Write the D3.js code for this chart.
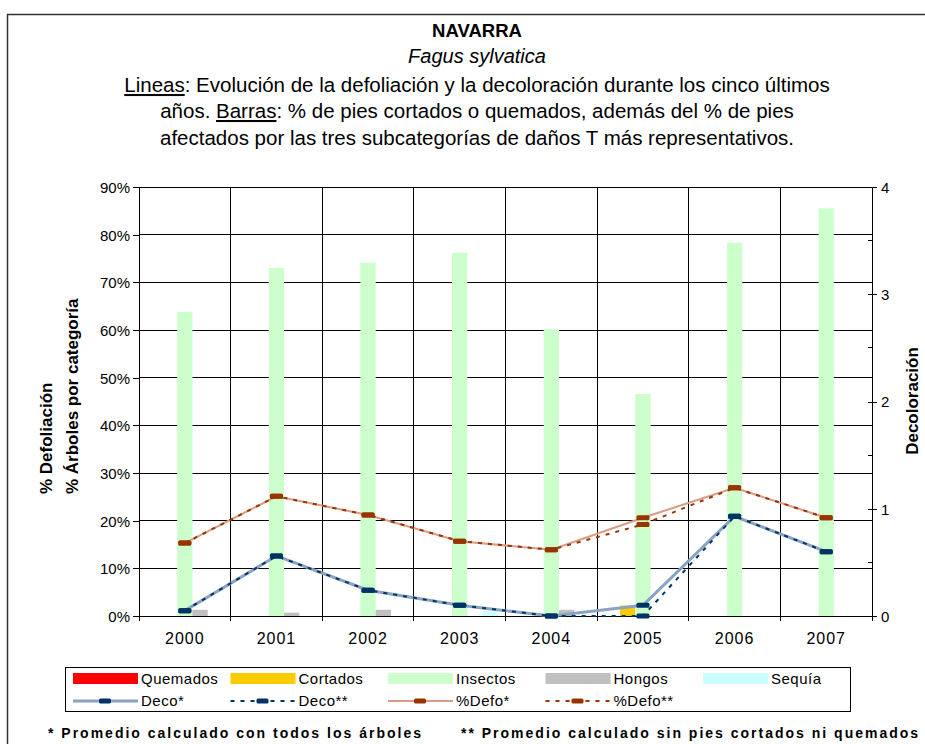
<!DOCTYPE html>
<meta charset="utf-8">
<style>
body {
  margin: 0;
  background: #fff;
}
svg text {
  font-family: "Liberation Sans", Arial, sans-serif;
  fill: #000;
}
.grid line {
  stroke: #000;
  stroke-width: 1px;
  shape-rendering: crispEdges;
}
.axis path, .axis line {
  stroke: #000;
  shape-rendering: crispEdges;
}
.axis text {
  font-size: 15px;
}
</style>
<body>
<script src="https://cdn.jsdelivr.net/npm/d3@7"></script>
<script>
var width = 925,
    height = 744;

var years = ["2000", "2001", "2002", "2003", "2004", "2005", "2006", "2007"];
var seriesNames = ["Quemados", "Cortados", "Insectos", "Hongos", "Sequía"];
var seriesColors = ["#ff0000", "#ffcc00", "#ccffcc", "#c0c0c0", "#ccffff"];

// % de pies por categoría (eje izquierdo)
var quemados = [0, 0, 0, 0, 0, 0, 0, 0];
var cortados = [0, 0, 0, 0, 0, 2.2, 0, 0];
var insectos = [63.8, 73.0, 74.1, 76.2, 60.2, 46.6, 78.3, 85.5];
var hongos   = [1.3, 0.7, 1.3, 0, 1.3, 0, 0, 0];
var sequia   = [0, 0, 0, 1.0, 0, 0, 0, 0];

// decoloración (eje derecho, 0-4)
var decoTodos = [0.05, 0.56, 0.24, 0.10, 0, 0.10, 0.93, 0.60];
var decoSin   = [0.05, 0.56, 0.24, 0.10, 0, 0, 0.93, 0.60];

// % defoliación (eje izquierdo)
var defoTodos = [15.3, 25.1, 21.2, 15.7, 13.9, 20.6, 26.9, 20.6];
var defoSin   = [15.3, 25.1, 21.2, 15.7, 13.9, 19.2, 26.9, 20.6];

var leftTicks = [0, 10, 20, 30, 40, 50, 60, 70, 80, 90];
var rightTicks = [0, 1, 2, 3, 4];

var barSeries = [quemados, cortados, insectos, hongos, sequia];

var plot = {left: 139, right: 872, top: 187, bottom: 616};

var svg = d3.select("body").append("svg")
    .attr("width", width)
    .attr("height", height);

// outer frame (continues past the right and bottom edges)
svg.append("path")
    .attr("d", "M7.5," + height + "V14.5H" + width)
    .attr("fill", "none")
    .attr("stroke", "#333")
    .attr("stroke-width", 1.5);

// titles
var cx = 477;
svg.append("text")
    .attr("x", cx).attr("y", 37)
    .attr("text-anchor", "middle")
    .style("font-size", "18.5px").style("font-weight", "bold")
    .text("NAVARRA");
svg.append("text")
    .attr("x", cx).attr("y", 63)
    .attr("text-anchor", "middle")
    .style("font-size", "20px").style("font-style", "italic")
    .text("Fagus sylvatica");

var l1 = svg.append("text").attr("x", cx).attr("y", 92)
    .attr("text-anchor", "middle").style("font-size", "20.5px");
l1.append("tspan").attr("text-decoration", "underline").text("Lineas");
l1.append("tspan").text(": Evolución de la defoliación y la decoloración durante los cinco últimos");

var l2 = svg.append("text").attr("x", cx).attr("y", 118)
    .attr("text-anchor", "middle").style("font-size", "20.5px");
l2.append("tspan").text("años. ");
l2.append("tspan").attr("text-decoration", "underline").text("Barras");
l2.append("tspan").text(": % de pies cortados o quemados, además del % de pies");

svg.append("text").attr("x", cx).attr("y", 145)
    .attr("text-anchor", "middle").style("font-size", "20.5px")
    .text("afectados por las tres subcategorías de daños T más representativos.");

// scales
var x0 = d3.scaleBand()
    .domain(years)
    .range([plot.left, plot.right])
    .paddingInner(0).paddingOuter(0);

var x1 = d3.scaleBand()
    .domain(seriesNames)
    .range([0, x0.bandwidth()])
    .paddingInner(0).paddingOuter(0.5);

var y = d3.scaleLinear().domain([0, 90]).range([plot.bottom, plot.top]);
var yR = d3.scaleLinear().domain([0, 4]).range([plot.bottom, plot.top]);

var cxOf = function(d) { return x0(d) + x0.bandwidth() / 2; };

// gridlines
var grid = svg.append("g").attr("class", "grid");
grid.selectAll(".h")
    .data(leftTicks.slice(1))
  .enter().append("line")
    .attr("x1", plot.left).attr("x2", plot.right)
    .attr("y1", function(d) { return y(d); })
    .attr("y2", function(d) { return y(d); });
grid.selectAll(".v")
    .data(years.slice(1))
  .enter().append("line")
    .attr("x1", function(d) { return x0(d); })
    .attr("x2", function(d) { return x0(d); })
    .attr("y1", plot.top).attr("y2", plot.bottom);

// bars
var groups = svg.append("g").selectAll("g")
    .data(years)
  .enter().append("g")
    .attr("transform", function(d) { return "translate(" + x0(d) + ",0)"; });

groups.selectAll("rect")
    .data(function(d, i) {
      return seriesNames.map(function(s, k) {
        return {name: s, value: barSeries[k][i], color: seriesColors[k]};
      });
    })
  .enter().append("rect")
    .attr("x", function(d) { return x1(d.name); })
    .attr("width", x1.bandwidth())
    .attr("y", function(d) { return y(d.value); })
    .attr("height", function(d) { return y(0) - y(d.value); })
    .attr("fill", function(d) { return d.color; });

// axes
svg.append("g")
    .attr("class", "axis")
    .attr("transform", "translate(" + plot.left + ",0)")
    .call(d3.axisLeft(y).tickValues(leftTicks).tickSize(6).tickSizeOuter(0)
      .tickFormat(function(d) { return d + "%"; }))
    .call(function(g) { g.selectAll("text").attr("x", -9).attr("dy", "0.36em"); });

var xAxis = svg.append("g")
    .attr("class", "axis")
    .attr("transform", "translate(0," + plot.bottom + ")");
xAxis.append("line")
    .attr("x1", plot.left).attr("x2", plot.right)
    .attr("stroke", "#000");
xAxis.selectAll(".tick")
    .data(years.concat(["end"]))
  .enter().append("line")
    .attr("x1", function(d) { return d === "end" ? plot.right : x0(d); })
    .attr("x2", function(d) { return d === "end" ? plot.right : x0(d); })
    .attr("y1", 0).attr("y2", 5)
    .attr("stroke", "#000");
xAxis.selectAll("text")
    .data(years)
  .enter().append("text")
    .attr("x", cxOf)
    .attr("y", 28)
    .attr("text-anchor", "middle")
    .style("font-size", "16px").style("letter-spacing", "1px")
    .text(function(d) { return d; });

var rAxis = svg.append("g")
    .attr("class", "axis")
    .attr("transform", "translate(" + plot.right + ",0)")
    .call(d3.axisRight(yR).tickValues(rightTicks).tickSize(5).tickSizeOuter(0)
      .tickFormat(d3.format("d")));
rAxis.selectAll(".tick line").attr("x1", -4);
rAxis.selectAll(".tick text").attr("x", 9).attr("dy", "0.36em");
rAxis.selectAll(".minor")
    .data(d3.range(0.5, 4, 1))
  .enter().append("line")
    .attr("x1", -4).attr("x2", 0)
    .attr("y1", function(d) { return yR(d); })
    .attr("y2", function(d) { return yR(d); })
    .attr("stroke", "#000");

// axis titles
svg.append("text")
    .attr("transform", "translate(52,494) rotate(-90)")
    .style("font-size", "17px").style("font-weight", "bold")
    .text("% Defoliación");
svg.append("text")
    .attr("transform", "translate(78,494) rotate(-90)")
    .style("font-size", "17px").style("font-weight", "bold")
    .text("% Árboles por categoría");
svg.append("text")
    .attr("transform", "translate(918,401) rotate(-90)")
    .attr("text-anchor", "middle")
    .style("font-size", "17px").style("font-weight", "bold")
    .text("Decoloración");

// lines
var lineSpecs = [
  {name: "Deco*", values: decoTodos, scale: yR, color: "#8aa3c2", width: 3, dash: null, marker: "#003366"},
  {name: "Deco**", values: decoSin, scale: yR, color: "#003366", width: 2, dash: "4,6", marker: "#003366"},
  {name: "%Defo*", values: defoTodos, scale: y, color: "#d99c84", width: 2, dash: null, marker: "#993300"},
  {name: "%Defo**", values: defoSin, scale: y, color: "#993300", width: 2, dash: "4,6", marker: "#993300"}
];

lineSpecs.forEach(function(s) {
  var line = d3.line()
      .x(function(d, i) { return cxOf(years[i]); })
      .y(function(d) { return s.scale(d); });
  svg.append("path")
      .datum(s.values)
      .attr("fill", "none")
      .attr("stroke", s.color)
      .attr("stroke-width", s.width)
      .attr("stroke-dasharray", s.dash)
      .attr("d", line);
});
lineSpecs.forEach(function(s) {
  svg.append("g").selectAll("rect")
      .data(s.values)
    .enter().append("rect")
      .attr("x", function(d, i) { return cxOf(years[i]) - 6.5; })
      .attr("y", function(d) { return s.scale(d) - 2.5; })
      .attr("width", 13).attr("height", 5)
      .attr("rx", 1.5)
      .attr("fill", s.marker);
});

// legend
var legend = svg.append("g");
legend.append("rect")
    .attr("x", 65.5).attr("y", 667.5)
    .attr("width", 785).attr("height", 44)
    .attr("fill", "#fff").attr("stroke", "#000");

var legX = function(i) { return 73 + i * 157.5; };
seriesNames.forEach(function(name, i) {
  legend.append("rect")
      .attr("x", legX(i)).attr("y", 673)
      .attr("width", 65).attr("height", 11)
      .attr("fill", seriesColors[i]);
  legend.append("text")
      .attr("x", legX(i) + 68).attr("y", 684)
      .style("font-size", "15px").style("letter-spacing", "0.5px")
      .text(name);
});
lineSpecs.forEach(function(s, i) {
  var lx = legX(i), ly = 701;
  legend.append("line")
      .attr("x1", lx).attr("x2", lx + 65)
      .attr("y1", ly).attr("y2", ly)
      .attr("stroke", s.color)
      .attr("stroke-width", s.width)
      .attr("stroke-dasharray", s.dash);
  legend.append("rect")
      .attr("x", lx + 26).attr("y", ly - 2.5)
      .attr("width", 12).attr("height", 5)
      .attr("rx", 1.5)
      .attr("fill", s.marker);
  legend.append("text")
      .attr("x", lx + 68).attr("y", 706)
      .style("font-size", "15px").style("letter-spacing", "0.5px")
      .text(s.name);
});

// footnotes
svg.append("text")
    .attr("x", 48).attr("y", 738)
    .style("font-size", "14px").style("font-weight", "bold").style("letter-spacing", "2px")
    .text("* Promedio calculado con todos los árboles");
svg.append("text")
    .attr("x", 461).attr("y", 738)
    .style("font-size", "14px").style("font-weight", "bold").style("letter-spacing", "2px")
    .text("** Promedio calculado sin pies cortados ni quemados");
</script>
